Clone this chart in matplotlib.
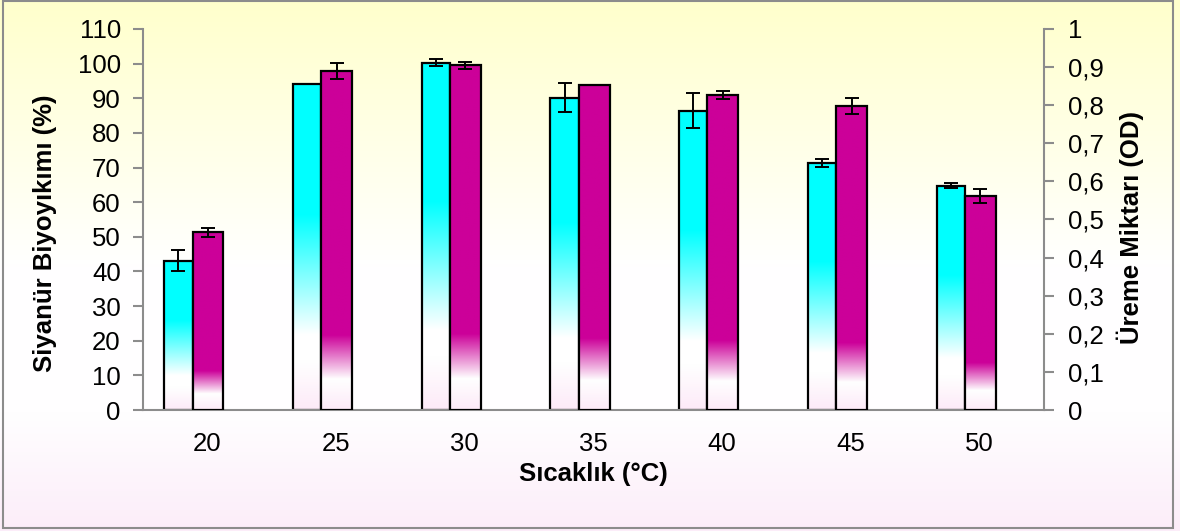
import numpy as np
import matplotlib
matplotlib.use("Agg")
import matplotlib.pyplot as plt
from matplotlib.colors import LinearSegmentedColormap
from matplotlib.patches import Rectangle
from matplotlib.ticker import FuncFormatter, MultipleLocator

# ---- data ----
temps = ["20", "25", "30", "35", "40", "45", "50"]
degradation = [43.1, 94.1, 100.3, 90.2, 86.4, 71.4, 64.8]        # %
degradation_err = [3.0, 0.0, 1.1, 4.1, 5.0, 1.1, 0.6]
growth = [0.466, 0.889, 0.905, 0.853, 0.827, 0.798, 0.562]       # OD
growth_err = [0.011, 0.021, 0.009, 0.0, 0.011, 0.020, 0.019]

W, H, DPI = 1180, 531, 100
fig = plt.figure(figsize=(W / DPI, H / DPI), dpi=DPI)
plt.rcParams['font.family'] = ['Liberation Sans', 'DejaVu Sans']

# background gradient
bg = fig.add_axes([0, 0, 1, 1], zorder=-10)
bg_cmap = LinearSegmentedColormap.from_list(
    "bg", [(0, "#FFFFCC"), (0.5, "#FFFFFF"), (0.78, "#FFFEFF"), (1.0, "#FCEDF9")])
grad = np.linspace(0, 1, 256).reshape(-1, 1)
bg.imshow(grad, cmap=bg_cmap, aspect="auto", extent=[0, 1, 0, 1], origin="upper")
bg.set_xlim(0, 1); bg.set_ylim(0, 1)
bg.axis("off")
bg.add_patch(Rectangle((3 / W, 3 / H), (1173 - 3) / W, (H - 4) / H,
                       fill=False, edgecolor="#8C8C8C", lw=1.5,
                       transform=bg.transAxes))

ax = fig.add_axes([143 / W, 121 / H, 901 / W, 381 / H])
ax.set_facecolor("none")
ax2 = ax.twinx()
ax2.set_facecolor("none")

cyan_cmap = LinearSegmentedColormap.from_list(
    "cy", [(0, "#00FFFF"), (0.40, "#00FFFF"), (0.77, "#FFFFFF"),
           (0.85, "#FFFFFF"), (1.0, "#FDEAF8")])
mag_cmap = LinearSegmentedColormap.from_list(
    "mg", [(0, "#CC0099"), (0.78, "#CC0099"), (0.91, "#FFFFFF"),
           (1.0, "#FDEAF8")])

x = np.arange(len(temps))
w1, w2 = 0.22, 0.24
off1, off2 = -0.335 + w1 / 2, -0.115 + w2 / 2


def grad_bars(axis, xs, vals, width, cmap, z):
    bars = axis.bar(xs, vals, width=width, facecolor="none",
                    edgecolor="black", linewidth=1.6, zorder=z + 1)
    for b in bars:
        x0, y0 = b.get_x(), b.get_y()
        h = b.get_height()
        im = axis.imshow(grad, cmap=cmap, aspect="auto",
                         extent=[x0, x0 + b.get_width(), y0, y0 + h],
                         origin="upper", zorder=z, interpolation="bilinear")
        im.set_clip_path(b)
    return bars


grad_bars(ax, x + off1, degradation, w1, cyan_cmap, 2)
ax.errorbar(x + off1, degradation, yerr=degradation_err, fmt="none",
            ecolor="black", elinewidth=1.4, capsize=5, capthick=1.4, zorder=5)

grad_bars(ax2, x + off2, growth, w2, mag_cmap, 2)
ax2.errorbar(x + off2, growth, yerr=growth_err, fmt="none",
             ecolor="black", elinewidth=1.4, capsize=5, capthick=1.4, zorder=5)

ax.set_xlim(-0.5, len(temps) - 0.5)
ax.set_ylim(0, 110)
ax2.set_ylim(0, 1)
ax.yaxis.set_major_locator(MultipleLocator(10))
ax2.yaxis.set_major_locator(MultipleLocator(0.1))
ax2.yaxis.set_major_formatter(FuncFormatter(
    lambda v, p: ("%g" % round(v, 1)).replace(".", ",")))
ax.set_xticks(x)
ax.set_xticklabels(temps)

for a in (ax, ax2):
    for s in a.spines.values():
        s.set_visible(False)
ax.spines["left"].set_visible(True)
ax.spines["bottom"].set_visible(True)
ax2.spines["right"].set_visible(True)
for s in (ax.spines["left"], ax.spines["bottom"], ax2.spines["right"]):
    s.set_color("#8C8C8C")
    s.set_linewidth(1.5)
ax.spines["bottom"].set_zorder(6)

TICK_FS = 18.5
LAB_FS = 18.5
ax.tick_params(axis="y", length=7, width=1.5, color="#8C8C8C",
               labelsize=TICK_FS, pad=9)
ax2.tick_params(axis="y", length=7, width=1.5, color="#8C8C8C",
                labelsize=TICK_FS, pad=10)
ax.tick_params(axis="x", length=0, labelsize=TICK_FS, pad=16)

ax.set_ylabel("Siyanür Biyoyıkımı (%)", fontsize=LAB_FS, fontweight="bold")
ax.yaxis.label.set_verticalalignment("center")
ax.yaxis.set_label_coords((45 - 143) / 901, (410 - 233) / 381)
ax2.set_ylabel("Üreme Miktarı (OD)", fontsize=LAB_FS, fontweight="bold",
               rotation=90)
ax2.yaxis.label.set_verticalalignment("center")
ax2.yaxis.set_label_coords((1130 - 143) / 901, (410 - 228) / 381)
ax.set_xlabel("Sıcaklık (°C)", fontsize=LAB_FS, fontweight="bold")
ax.xaxis.label.set_verticalalignment("center")
ax.xaxis.set_label_coords(0.5, (410 - 474) / 381)

fig.savefig("out.png", dpi=DPI)
